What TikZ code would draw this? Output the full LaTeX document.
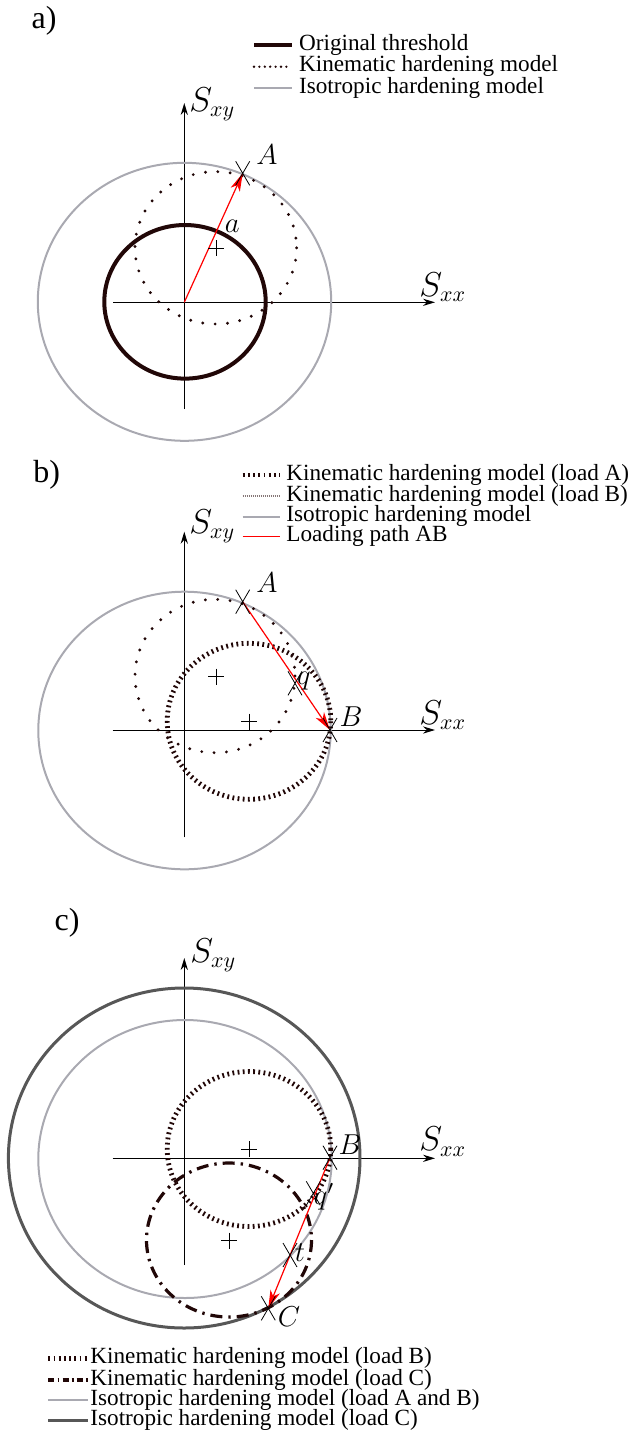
\documentclass[tikz,border=0pt]{standalone}
\usepackage{fontspec}
\setmainfont{Liberation Serif}
\usetikzlibrary{arrows.meta}

\begin{document}
\begin{tikzpicture}[
  x=0.5pt,y=-0.5pt,
  axis/.style={draw=black,line width=0.5pt,-{Stealth[length=6pt,width=3.6pt]}},
  thresh/.style={draw=darkCurve,line width=2pt},
  kinSparse/.style={draw=darkCurve,line width=1.6pt,line cap=round,
                    dash pattern=on 0pt off 6.2pt},
  kinSparseLeg/.style={kinSparse,line width=1.3pt,dash pattern=on 0pt off 2.7pt},
  kinDense/.style={draw=darkCurve,line width=2.4pt,dash pattern=on 0.9pt off 1.7pt},
  kinFine/.style={draw=darkCurve!55,line width=0.8pt,dash pattern=on 0.5pt off 0.5pt},
  kinDashDot/.style={draw=darkCurve,line width=1.6pt,
                     dash pattern=on 6pt off 3pt on 1.2pt off 3pt},
  kinDashDotLeg/.style={kinDashDot,dash pattern=on 3pt off 1.6pt on 0.9pt off 1.6pt},
  isoLight/.style={draw=isoGray,line width=1pt},
  isoDark/.style={draw=isoDarkGray,line width=1.5pt},
  redline/.style={draw=red,line width=0.6pt},
  loadpath/.style={redline,-{Stealth[length=9pt,width=5pt,inset=2.5pt]}},
  marker/.style={draw=black,line width=0.4pt},
  legtext/.style={anchor=west,inner sep=1pt,text height=0.62em,text depth=0.1em,
                  font=\fontsize{11.6}{11.6}\selectfont},
  panel/.style={inner sep=0pt,font=\fontsize{16}{16}\selectfont},
  ptlabel/.style={inner sep=0pt,font=\fontsize{14.5}{14.5}\selectfont},
  axlabel/.style={anchor=west,inner sep=0pt,font=\fontsize{16}{16}\selectfont},
]
\definecolor{darkCurve}{HTML}{210707}
\definecolor{isoGray}{HTML}{A9A9B1}
\definecolor{isoDarkGray}{HTML}{575757}

\useasboundingbox (0,0) rectangle (638,1432);

% ---------------- a) original threshold and first load ----------------
\node[panel] (pa) at (44,21) {a)};
\foreach \y/\s/\t [count=\i] in {45/thresh/Original threshold,
  66.7/kinSparseLeg/Kinematic hardening model,
  88.3/isoLight/Isotropic hardening model}{
  \node[legtext] (la\i) at (296.7,\y) {\t};
  \draw[\s,shorten >=2.5pt] (254,\y) -- (la\i.west);
}

\coordinate (Oa) at (184.3,302.3);
\coordinate (xaL) at (113,302.3);
\coordinate (xaR) at (435,302.3);
\coordinate (yaB) at (184.3,409);
\coordinate (yaT) at (184.3,103);
\draw[axis] (xaL) -- (xaR);
\draw[axis] (yaB) -- (yaT);
\node[axlabel] (sxxa) at (419,287) {$S_{xx}$};
\node[axlabel] (sxya) at (189,104) {$S_{xy}$};

\draw[isoLight] (184.5,301.8) ellipse [x radius=146.7,y radius=139];
\draw[thresh] (185,301.8) ellipse [x radius=80.7,y radius=76.8];
\draw[kinSparse] (215.8,247.8) ellipse [x radius=80.8,y radius=76.2];

\coordinate (Aa) at (242.7,173.3);
\draw[loadpath] (Oa) -- (Aa);
\node[ptlabel] (labAa) at (267,155) {$A$};
\node[ptlabel] (laba) at (232.3,226) {$a$};

% ---------------- b) loading path A -> B ----------------
\node[panel] (pb) at (46.7,475) {b)};
\foreach \y/\s/\t [count=\i] in {475/kinDense/Kinematic hardening model (load A),
  496/kinFine/Kinematic hardening model (load B),
  516.7/isoLight/Isotropic hardening model,
  536.7/redline/Loading path AB}{
  \node[legtext] (lb\i) at (284,\y) {\t};
  \draw[\s,shorten >=2pt] (242.7,\y) -- (lb\i.west);
}

\coordinate (Ob) at (184.3,730);
\coordinate (xbL) at (112.7,730);
\coordinate (xbR) at (435,730);
\coordinate (ybB) at (184.3,837.3);
\coordinate (ybT) at (184.3,531.7);
\draw[axis] (xbL) -- (xbR);
\draw[axis] (ybB) -- (ybT);
\node[axlabel] (sxxb) at (419,715) {$S_{xx}$};
\node[axlabel] (sxyb) at (189,526.7) {$S_{xy}$};

\draw[isoLight] (184.5,730.5) ellipse [x radius=146.2,y radius=138.8];
\draw[kinSparse] (215,676) ellipse [x radius=80,y radius=76.7];
\draw[kinDense] (249,721.3) ellipse [x radius=81.8,y radius=78];

\coordinate (Ab) at (242.7,601.7);
\coordinate (Bb) at (330,730);
\coordinate (qb) at (295,683.3);
\draw[loadpath] (Ab) -- (Bb);
\node[ptlabel] (labAb) at (267,583) {$A$};
\node[ptlabel] (labBb) at (351,716.7) {$B$};
\node[ptlabel] (labqb) at (304,681) {$q$};

% ---------------- c) loading path B -> C ----------------
\node[panel] (pc) at (67,923) {c)};

\coordinate (Oc) at (184.3,1158.3);
\coordinate (xcL) at (112.7,1158.3);
\coordinate (xcR) at (435,1158.3);
\coordinate (ycB) at (184.3,1265);
\coordinate (ycT) at (184.3,958);
\draw[axis] (xcL) -- (xcR);
\draw[axis] (ycB) -- (ycT);
\node[axlabel] (sxxc) at (419,1141.7) {$S_{xx}$};
\node[axlabel] (sxyc) at (190,955) {$S_{xy}$};

\draw[isoDark] (184.2,1158) ellipse [x radius=175.8,y radius=170];
\draw[isoLight] (185,1159) ellipse [x radius=146.7,y radius=139];
\draw[kinDense] (249,1149) ellipse [x radius=81.8,y radius=77.5];
\draw[kinDashDot] (229,1240) ellipse [x radius=82.5,y radius=77];

\coordinate (Bc) at (330,1157.7);
\coordinate (qc) at (313.3,1193.3);
\coordinate (tc) at (290,1255);
\coordinate (Cc) at (268.3,1308.3);
\draw[loadpath] (Bc) -- (Cc);
\node[ptlabel] (labBc) at (350,1145) {$B$};
\node[ptlabel] (labqc) at (324,1197) {$q'$};
\node[ptlabel] (labtc) at (300,1253) {$t$};
\node[ptlabel] (labCc) at (289,1317) {$C$};

\foreach \y/\s/\t [count=\i] in {1358.3/kinDense/Kinematic hardening model (load B),
  1380/kinDashDotLeg/Kinematic hardening model (load C),
  1400/isoLight/Isotropic hardening model (load A and B),
  1420/isoDark/Isotropic hardening model (load C)}{
  \node[legtext] (lc\i) at (88,\y) {\t};
  \draw[\s] (48.3,\y) -- (lc\i.west);
}

% centre marks and load points
\foreach \x/\y in {216/248,216/676.7,249.3/721.7,249.3/1149.3,229.3/1240.7}
  \draw[marker] (\x,\y) +(-8,0) -- +(8,0) +(0,-8) -- +(0,8);
\foreach \n in {Aa,Ab,Bb,qb,Bc,qc,tc,Cc}
  \draw[marker] (\n) +(-7,-12) -- +(7,12) +(-7,12) -- +(7,-12);
\end{tikzpicture}
\end{document}
